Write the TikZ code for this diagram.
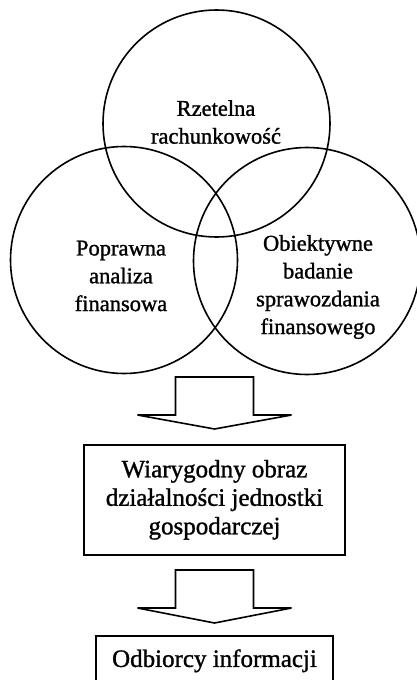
\documentclass[tikz,border=0pt]{standalone}
\usepackage{fontspec}
\setmainfont{Liberation Serif}[FakeBold=1.2]
\usetikzlibrary{calc}
\begin{document}
\begin{tikzpicture}[x=1pt,y=-1pt,
  ring/.style={draw, circle, line width=1.6pt, minimum size=227pt, inner sep=0pt},
  lbl/.style={align=center, font=\fontsize{22.5}{27.8}\selectfont, inner sep=0pt},
  panel/.style={draw, line width=1.6pt, align=center, inner sep=0pt,
                font=\fontsize{25}{28.5}\selectfont},
  blockarrow/.style={draw, line width=1.6pt, line join=miter}]
\useasboundingbox (0,0) rectangle (417,680);
\clip (0,0) rectangle (417,680);

% three overlapping circles
\node[ring] (top)   at (216.5,123.5) {};
\node[ring] (left)  at (124,260) {};
\node[ring] (right) at (307,261) {};

\node[lbl] (ttop)   at (216,122) {Rzetelna\\rachunkowość};
\node[lbl] (tleft)  at (121,276) {Poprawna\\analiza\\finansowa};
\node[lbl] (tright) at (318,287) {Obiektywne\\badanie\\sprawozdania\\finansowego};

% result boxes
\node[panel, minimum width=261pt, minimum height=110pt, anchor=north] (box1)
  at (214.5,444) {Wiarygodny obraz\\działalności jednostki\\gospodarczej};
\node[panel, minimum width=237pt, minimum height=50pt, anchor=north] (box2)
  at (214.5,635) {Odbiorcy informacji};

% block arrows
\coordinate (tip1) at ($(box1.north)+(0,-15)$);
\draw[blockarrow] (tip1) -- ++(-77,-14) -- ++(38,0) -- ++(0,-38) -- ++(78,0)
  -- ++(0,38) -- ++(38,0) -- cycle;
\coordinate (tip2) at ($(box2.north)+(0,-12)$);
\draw[blockarrow] (tip2) -- ++(-77,-15) -- ++(38,0) -- ++(0,-38) -- ++(78,0)
  -- ++(0,38) -- ++(38,0) -- cycle;
\end{tikzpicture}
\end{document}
